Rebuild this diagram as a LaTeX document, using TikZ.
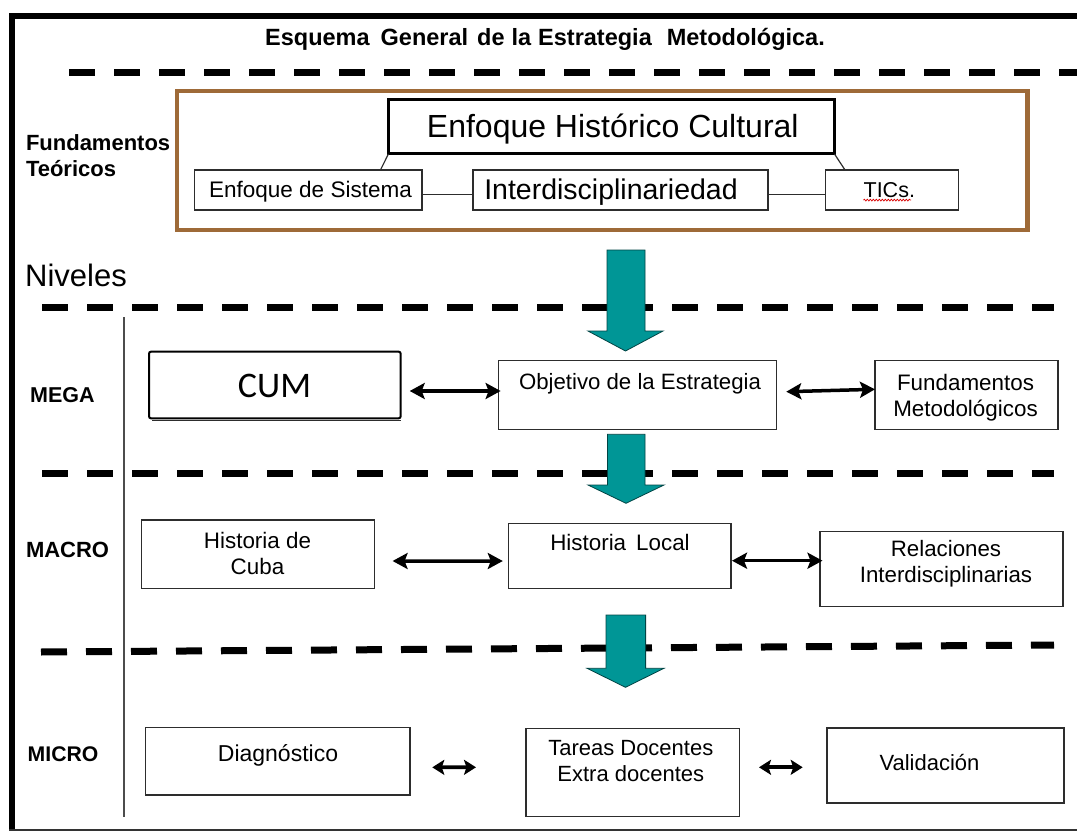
\documentclass[tikz,border=0pt]{standalone}
\usepackage{fontspec}
\setmainfont{Liberation Sans}
\newfontfamily\calib{Carlito}
\usetikzlibrary{calc,arrows.meta,decorations.pathmorphing}
\definecolor{brownbox}{RGB}{158,106,56}
\definecolor{tealarrow}{RGB}{0,150,150}
\definecolor{boxline}{RGB}{45,45,45}
\tikzset{
  box/.style={draw=boxline, line width=1.4pt, inner sep=0pt, outer sep=0pt, anchor=north west},
  txt/.style={inner sep=0pt, anchor=base, align=center, text=black},
  lvl/.style={inner sep=0pt, anchor=base west, align=left, font=\fontsize{21.5}{26}\selectfont\bfseries},
  dline/.style={line width=7pt, dash pattern=on 26pt off 19pt},
  dbl/.style={line width=3.5pt, >={Stealth[length=15pt,width=16pt,inset=3pt]}, <->},
  sdbl/.style={line width=3.8pt, >={Stealth[length=12pt,width=15pt,inset=2.5pt]}, <->},
  tarrow/.style={fill=tealarrow, draw=black!55!tealarrow, line width=0.8pt},
  conn/.style={draw=boxline, line width=1.2pt},
}
\begin{document}
\begin{tikzpicture}[x=1pt,y=-1pt]
\useasboundingbox (0,0) rectangle (1077,832);
\fill[white] (0,0) rectangle (1077,832);

% outer frame
\draw[line width=6pt] (1077,16.3) -- (11.5,16.3) -- (11.5,831);
\draw[line width=2.5pt, black!80] (9,830) -- (1077,830);

% title
\node[inner sep=0pt, anchor=base west, font=\fontsize{23.5}{28}\selectfont\bfseries] (title) at (265,45.7)
  {Esquema\hspace{11pt}General\hspace{9pt}de\hspace{7pt}la\hspace{7pt}Estrategia\hspace{15pt}Metodológica.};

% dashed separators
\draw[dline] (69,72.5) -- (1077,72.5);
\draw[dline] (42,307) -- (1054,307);
\draw[dline] (42,473.5) -- (1054,473.5);
\draw[dline] (41,652) -- (1054,645);

% vertical line
\draw[line width=1.5pt, black!70] (124,317) -- (124,817);

% Fundamentos teoricos
\node[lvl, font=\fontsize{22}{26}\selectfont\bfseries] (lfund) at (25.8,176.7) {Fundamentos\\Teóricos};
\node[box, draw=brownbox, line width=4.5pt, minimum width=850.7pt, minimum height=139pt] (fund) at (177,91) {};
\node[box, draw=black, line width=3pt, minimum width=446.1pt, minimum height=54pt] (hc) at (388.4,100) {};
\node[txt, font=\fontsize{32}{38}\selectfont] (thc) at (612.8,138) {Enfoque Histórico Cultural};
\node[box, minimum width=227.2pt, minimum height=40pt] (sist) at (194.6,170) {};
\node[txt, font=\fontsize{22.5}{26}\selectfont] (tsist) at (310.5,197.3) {Enfoque de Sistema};
\node[box, minimum width=295.2pt, minimum height=40pt] (inter) at (472.8,170) {};
\node[txt, font=\fontsize{28.5}{32}\selectfont] (tinter) at (611,200) {Interdisciplinariedad};
\node[box, minimum width=133.2pt, minimum height=40pt] (tics) at (825.3,170) {};
\node[txt, font=\fontsize{21.5}{26}\selectfont] (ttics) at (889.3,197.3) {TICs.};
\draw[red!85!black, line width=0.7pt, decorate, decoration={snake, amplitude=0.9pt, segment length=3pt}]
  ($(ttics.base west)+(0,2.8)$) -- ($(ttics.base east)+(-4,2.8)$);
\draw[conn] ($(sist.east)+(0,4.3)$) -- ($(inter.west)+(0,4.3)$);
\draw[conn] ($(inter.east)+(0,4.3)$) -- ($(tics.west)+(0,4.3)$);
\draw[conn] (hc.south west) -- ($(sist.north west)!0.818!(sist.north east)$);
\draw[conn] (hc.south east) -- ($(tics.north west)!0.148!(tics.north east)$);

% Niveles
\node[inner sep=0pt, anchor=base west, font=\fontsize{31}{36}\selectfont] (niv) at (25,286.7) {Niveles};

% MEGA
\node[lvl] (lmega) at (30,402) {MEGA};
\node[box, draw=black, line width=2pt, rounded corners=2pt, minimum width=251.7pt, minimum height=66.6pt] (cum) at (149,351.7) {};
\draw[boxline, line width=1pt] ($(cum.south west)+(3,2.5)$) -- ($(cum.south east)+(0,2.5)$);
\node[txt, font=\calib\fontsize{36}{40}\selectfont] (tcum) at (274.5,397) {CUM};
\node[box, minimum width=277.7pt, minimum height=68.6pt] (obj) at (498.6,360.7) {};
\node[txt, font=\fontsize{22.2}{26}\selectfont] (tobj) at (640,389) {Objetivo de la Estrategia};
\node[box, minimum width=182.8pt, minimum height=68.6pt] (fmet) at (875,360.7) {};
\node[txt, font=\fontsize{22.4}{26.7}\selectfont] (tfmet) at (965.5,416.7) {Fundamentos\\Metodológicos};
\draw[dbl] ($(cum.east)+(9,6)$) -- ($(obj.west)+(2,-4)$);
\draw[dbl] ($(obj.east)+(10,-3.3)$) -- ($(fmet.west)+(0,-5.7)$);

% MACRO
\node[lvl, font=\fontsize{22}{26}\selectfont\bfseries] (lmacro) at (25.8,557.7) {MACRO};
\node[box, minimum width=232.8pt, minimum height=68.7pt] (hcuba) at (141.5,520) {};
\node[txt, font=\fontsize{22.4}{26}\selectfont] (thcuba) at (257.5,574) {Historia de\\Cuba};
\node[box, minimum width=222.4pt, minimum height=65.4pt] (hloc) at (508.6,523.3) {};
\node[txt, font=\fontsize{22.4}{26}\selectfont] (thloc) at (620,550) {Historia\hspace{10pt}Local};
\node[box, minimum width=243pt, minimum height=75pt] (rel) at (820,531.7) {};
\node[txt, font=\fontsize{22.3}{26}\selectfont] (trel) at (946,582.7) {Relaciones\\Interdisciplinarias};
\draw[dbl] ($(hcuba.east)+(18.3,6.65)$) -- ($(hloc.west)+(-5.8,5)$);
\draw[dbl] ($(hloc.east)+(1,4.7)$) -- ($(rel.west)+(2.5,-8.5)$);

% MICRO
\node[lvl, font=\fontsize{21.2}{26}\selectfont\bfseries] (lmicro) at (27.5,761.7) {MICRO};
\node[box, minimum width=264.4pt, minimum height=67.3pt] (diag) at (145.6,727.7) {};
\node[txt, font=\fontsize{23}{27}\selectfont] (tdiag) at (278,761) {Diagnóstico};
\node[box, minimum width=213.3pt, minimum height=88.4pt] (tar) at (526,728.3) {};
\node[txt, font=\fontsize{22}{26.7}\selectfont] (ttar) at (630.8,781.7) {Tareas Docentes\\Extra docentes};
\node[box, minimum width=237pt, minimum height=75pt] (val) at (827,728) {};
\node[txt, font=\fontsize{22}{26}\selectfont] (tval) at (929.5,770) {Validación};
\draw[sdbl] ($(diag.east)+(22.3,6)$) -- ($(tar.west)+(-50,-5.2)$);
\draw[sdbl] ($(tar.east)+(19.7,-5.2)$) -- ($(val.west)+(-24.3,1.8)$);

% teal block arrows
\draw[tarrow] (607,250) -- (645,250) -- (645,331) -- (663,331) -- (625.5,351) -- (588,331) -- (607,331) -- cycle;
\draw[tarrow] (607.5,434.3) -- (645,434.3) -- (645,485) -- (664,485) -- (626,503.3) -- (588,485) -- (607.5,485) -- cycle;
\draw[tarrow] (606,615) -- (645.6,615) -- (645.6,668.3) -- (664,668.3) -- (625.5,687.3) -- (587,668.3) -- (606,668.3) -- cycle;
\end{tikzpicture}
\end{document}
